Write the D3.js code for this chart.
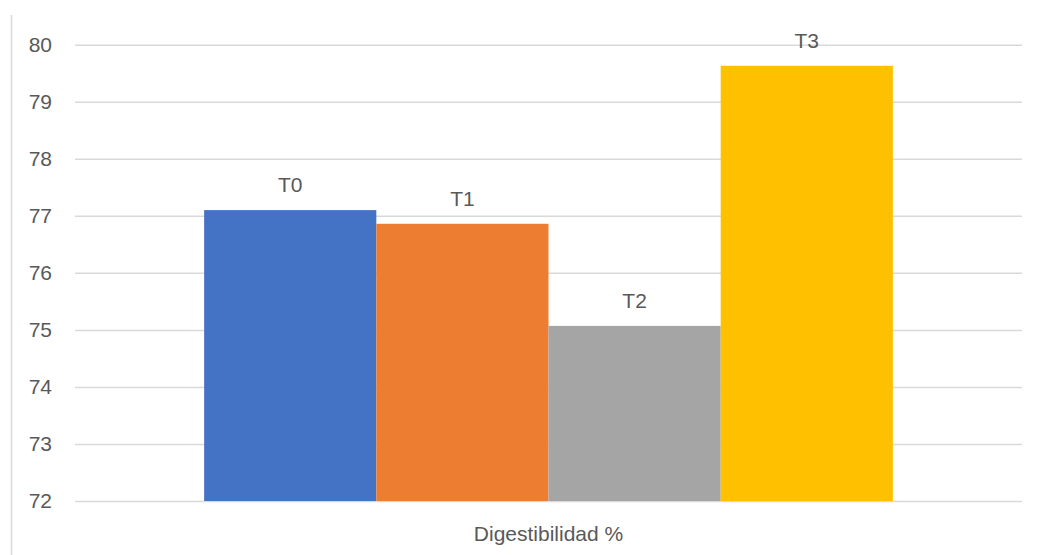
<!DOCTYPE html>
<html>
<head>
<meta charset="utf-8">
<script src="https://cdn.jsdelivr.net/npm/d3@7"></script>
<style>
  html, body { margin: 0; padding: 0; background: #fff; }
  svg { display: block; }
  text { font-family: "Liberation Sans", Arial, sans-serif; fill: #595959; }
</style>
</head>
<body>
<svg id="chart" width="1037" height="555"></svg>
<script>
const categories = ["Digestibilidad %"];
const seriesNames = ["T0", "T1", "T2", "T3"];
const seriesValues = [77.10, 76.86, 75.07, 79.63];
const seriesColors = ["#4472C4", "#ED7D31", "#A5A5A5", "#FFC000"];
const yTicks = [72, 73, 74, 75, 76, 77, 78, 79, 80];

const svg = d3.select("#chart");
const W = 1037, H = 555;
const plot = { left: 75, right: 1022, top: 44.7, bottom: 501 };

// outer chart border (left edge visible)
svg.append("line")
  .attr("x1", 11.5).attr("x2", 11.5).attr("y1", 15).attr("y2", H)
  .attr("stroke", "#d9d9d9").attr("stroke-width", 1.5);

const y = d3.scaleLinear().domain([72, 80]).range([plot.bottom, plot.top]);
const x0 = d3.scaleBand().domain(categories).range([plot.left, plot.right])
  .paddingInner(0).paddingOuter(0.1875);
const x1 = d3.scaleBand().domain(seriesNames).range([0, x0.bandwidth()]).padding(0);

// gridlines
const yAxis = d3.axisLeft(y).tickValues(yTicks).tickSize(-(plot.right - plot.left)).tickPadding(23).tickFormat(d3.format("d"));
const gy = svg.append("g").attr("transform", `translate(${plot.left},0)`).call(yAxis);
gy.select(".domain").remove();
gy.selectAll(".tick line").attr("stroke", "#d9d9d9").attr("stroke-width", 1.5);
gy.selectAll(".tick text")
  .style("font-family", '"Liberation Sans", Arial, sans-serif')
  .style("font-size", "21px").attr("fill", "#595959");

// bars
const data = seriesNames.map((s, i) => ({ cat: categories[0], name: s, value: seriesValues[i], color: seriesColors[i] }));
const g = svg.append("g");
g.selectAll("rect").data(data).enter().append("rect")
  .attr("x", d => x0(d.cat) + x1(d.name))
  .attr("width", x1.bandwidth())
  .attr("y", d => y(d.value))
  .attr("height", d => y(72) - y(d.value))
  .attr("fill", d => d.color);

// data labels
g.selectAll("text.lbl").data(data).enter().append("text")
  .attr("class", "lbl")
  .attr("x", d => x0(d.cat) + x1(d.name) + x1.bandwidth() / 2)
  .attr("y", d => y(d.value) - 18)
  .attr("text-anchor", "middle")
  .style("font-size", "21px")
  .text(d => d.name);

// x axis category label
const xAxis = d3.axisBottom(x0).tickSize(0).tickPadding(25);
const gx = svg.append("g").attr("transform", `translate(0,${plot.bottom})`).call(xAxis);
gx.select(".domain").remove();
gx.selectAll(".tick text")
  .style("font-family", '"Liberation Sans", Arial, sans-serif')
  .style("font-size", "21px").attr("fill", "#595959");
</script>
</body>
</html>
